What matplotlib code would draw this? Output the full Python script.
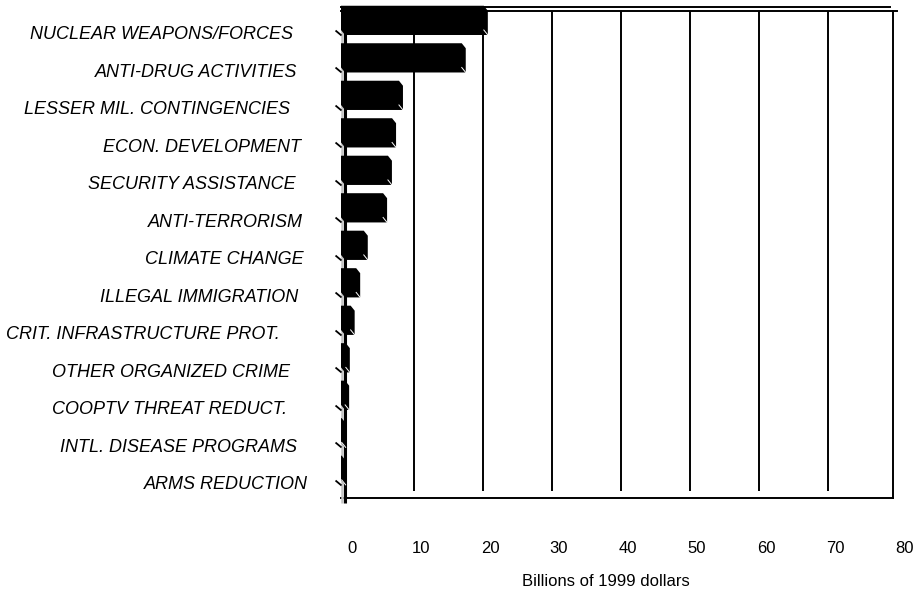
import matplotlib
matplotlib.use('Agg')
import matplotlib.pyplot as plt
from matplotlib.patches import Polygon
from matplotlib.transforms import ScaledTranslation, blended_transform_factory

categories = ['NUCLEAR WEAPONS/FORCES', 'ANTI-DRUG ACTIVITIES', 'LESSER MIL. CONTINGENCIES',
              'ECON. DEVELOPMENT', 'SECURITY ASSISTANCE', 'ANTI-TERRORISM', 'CLIMATE CHANGE',
              'ILLEGAL IMMIGRATION', 'CRIT. INFRASTRUCTURE PROT.', 'OTHER ORGANIZED CRIME',
              'COOPTV THREAT REDUCT.', 'INTL. DISEASE PROGRAMS', 'ARMS REDUCTION']
spending = [20.7, 17.5, 8.4, 7.4, 6.8, 6.1, 3.3, 2.2, 1.4, 0.7, 0.6, 0.1, 0.1]
x_ticks = [0, 10, 20, 30, 40, 50, 60, 70, 80]
x_labels = [str(t) for t in x_ticks]

# left edge (pixels from the figure's left side) of each category label
label_left = [30, 95, 24, 103, 88, 148, 145, 100, 6, 52, 52, 60, 144]

plt.rcParams['font.family'] = ['Liberation Sans', 'DejaVu Sans']

DPI = 100
W, H = 922, 595
fig = plt.figure(figsize=(W / DPI, H / DPI), dpi=DPI)
# front frame: left 341, right 893, top 11, bottom 498 (pixels)
ax = fig.add_axes([341 / W, (H - 498) / H, 552 / W, 487 / H])
ax.set_xlim(0, 80)
ax.set_ylim(12.35, -0.64)  # bar i sits with its bottom edge on y = i
for s in ax.spines.values():
    s.set_visible(False)


def px(dx, dy):
    # shift in image pixels, dy positive = downwards
    return ScaledTranslation(dx / DPI, -dy / DPI, fig.dpi_scale_trans)


ax_h = 487.0
ux = 4 * 80 / 552.0     # bar depth, x, data units
uy = 5 / 37.5           # bar depth, y, data units
bar_h = 0.78
lw = 1.4

# back wall: gridlines and right edge
grid_tr = blended_transform_factory(ax.transData + px(4, 0), ax.transAxes)
ax.vlines(x_ticks[1:], 7 / ax_h, 1, transform=grid_tr, color='black', lw=lw, zorder=1)
ax.vlines([0], -5 / ax_h, 1, transform=grid_tr, color='black', lw=2.2, zorder=2, clip_on=False)

# front frame
front_x = blended_transform_factory(ax.transData, ax.transAxes)
ax.plot([0, 80], [0, 0], transform=front_x, color='black', lw=lw, clip_on=False, zorder=1)
ax.plot([80, 80], [0, 1], transform=front_x, color='black', lw=lw, clip_on=False, zorder=1)
ax.plot([0, 80 + ux], [1, 1], transform=front_x, color='black', lw=lw, clip_on=False, zorder=1)
ax.plot([0, 80 - 3 * 80 / 552.0], [1 + 4 / ax_h, 1 + 4 / ax_h], transform=front_x,
        color='black', lw=lw, clip_on=False, zorder=1)

# grey side of the category axis
ax.vlines([0], -5 / ax_h, 1, transform=blended_transform_factory(ax.transData + px(1, 0), ax.transAxes),
          color='#c4c4c4', lw=1.8, zorder=2, clip_on=False)

# bars with a little depth
for i, v in enumerate(spending):
    top, bot = i - bar_h, i
    verts = [(0, top), (v, top), (v + ux, top + uy), (v + ux, bot), (ux, bot), (0, bot - uy)]
    ax.add_patch(Polygon(verts, closed=True, fc='black', ec='none', clip_on=False, zorder=3))
    ax.plot([v, v + ux], [bot - uy, bot], color='white', lw=0.7, zorder=4, clip_on=False)

# slanted category ticks
ax.plot([0] * len(categories), range(len(categories)), ls='none',
        marker=[(-6, 5), (0, 0)], ms=8.6, mfc='none', mec='black', mew=1.3,
        clip_on=False, zorder=5)

lab_tr = blended_transform_factory(fig.transFigure, ax.transData)
for i, name in enumerate(categories):
    ax.text(label_left[i] / W, i, name, transform=lab_tr, ha='left', va='center',
            fontsize=13, fontstyle='italic', clip_on=False)

ax.set_yticks([])
ax.set_xticks(x_ticks)
ax.set_xticklabels(x_labels)
ax.tick_params(axis='x', length=0, pad=31, labelsize=12)
for lbl in ax.get_xticklabels():
    lbl.set_transform(lbl.get_transform() + px(11, 0))

fig.text(522 / W, 1 - 581 / H, 'Billions of 1999 dollars', ha='left', va='center', fontsize=12)

fig.savefig('out.png', dpi=DPI)
